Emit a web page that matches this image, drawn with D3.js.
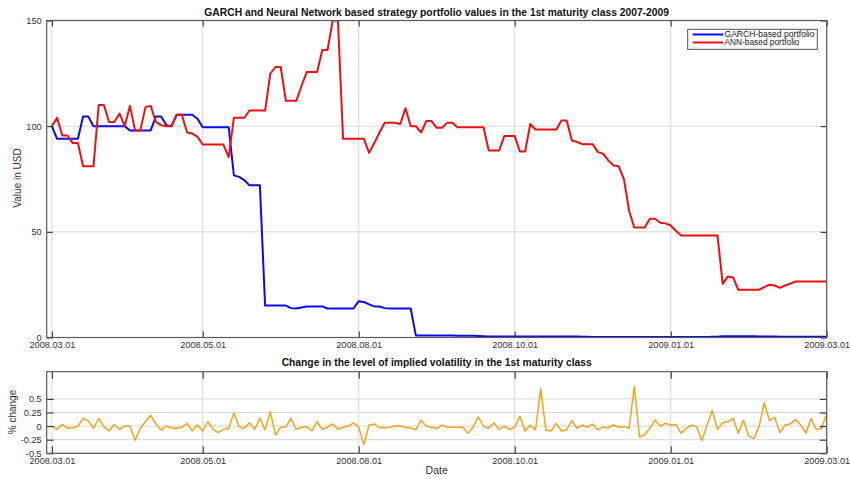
<!DOCTYPE html>
<html>
<head>
<meta charset="utf-8">
<script src="https://cdn.jsdelivr.net/npm/d3@7"></script>
<style>
  html, body { margin: 0; padding: 0; background: #fff; }
  svg { display: block; font-family: "Liberation Sans", Arial, Helvetica, sans-serif; }
</style>
</head>
<body>
<svg id="chart" width="850" height="479"></svg>
<script>
// Observation index (1..150) of each trading day and the dates shown on the axis
const tickIndex = [1, 30, 60, 90, 120, 150];
const tickLabels = ["2008.03.01", "2008.05.01", "2008.08.01", "2008.10.01", "2009.01.01", "2009.03.01"];

// Portfolio value (USD) of the GARCH-based strategy
const garchValues = [
  100, 94, 94, 94, 94, 94, 104.6, 104.6, 100, 100,
  100, 100, 100, 100, 100, 98, 98, 98, 98, 98,
  104.6, 104.6, 100.5, 100, 105.4, 105.4, 105.4, 105.4, 103.5, 99.5,
  99.5, 99.5, 99.5, 99.5, 99.5, 76.7, 76, 74.5, 72, 72,
  72, 15.1, 15.1, 15.1, 15.1, 15.1, 13.9, 13.7, 14.2, 14.7,
  14.7, 14.7, 14.7, 13.7, 13.7, 13.7, 13.7, 13.7, 13.7, 17.2,
  16.8, 15.7, 14.7, 14.7, 13.9, 13.7, 13.7, 13.7, 13.7, 13.7,
  0.9, 0.9, 0.9, 0.9, 0.9, 0.9, 0.9, 0.9, 0.8, 0.8,
  0.8, 0.8, 0.7, 0.6, 0.5, 0.5, 0.5, 0.5, 0.5, 0.5,
  0.5, 0.5, 0.5, 0.5, 0.5, 0.5, 0.5, 0.5, 0.5, 0.5,
  0.5, 0.5, 0.4, 0.3, 0.2, 0.2, 0.2, 0.2, 0.2, 0.2,
  0.2, 0.2, 0.2, 0.2, 0.2, 0.2, 0.2, 0.2, 0.2, 0.2,
  0.2, 0.2, 0.2, 0.2, 0.2, 0.2, 0.2, 0.3, 0.4, 0.6,
  0.6, 0.6, 0.6, 0.6, 0.6, 0.6, 0.5, 0.5, 0.5, 0.5,
  0.4, 0.4, 0.4, 0.4, 0.3, 0.3, 0.3, 0.3, 0.3, 0.3
];

// Portfolio value (USD) of the neural-network-based strategy
const annValues = [
  100, 104, 95.6, 95.6, 92, 92, 81, 81, 81, 110,
  110, 102, 102, 106, 100, 109.6, 98, 98, 109, 109.6,
  102, 100.5, 100, 100, 105.4, 105.4, 97, 96.5, 95, 91.3,
  91.3, 91.3, 91.3, 91.3, 85.3, 104, 104, 104, 107.4, 107.4,
  107.4, 107.4, 124.8, 128, 128, 112, 112, 112, 119, 125.6,
  125.6, 125.6, 136, 136, 150, 150, 94, 94, 94, 94,
  94, 87.4, 92, 97, 101.6, 101.6, 101.6, 101, 108.5, 100,
  100, 97, 102.4, 102.4, 99.2, 99.2, 101.6, 101.6, 99.5, 99.5,
  99.5, 99.5, 99.5, 99.5, 88.5, 88.5, 88.5, 95.3, 95.3, 95.3,
  88, 88, 101, 98.4, 98.4, 98.4, 98.4, 98.4, 102.7, 102.7,
  93.2, 92.5, 91.5, 91.5, 91.5, 87.7, 87, 83.8, 81.4, 81,
  75, 60, 52, 52, 52, 56.2, 56.2, 54.3, 54, 53,
  50.5, 48.3, 48.3, 48.3, 48.3, 48.3, 48.3, 48.3, 48.3, 25.4,
  28.9, 28.4, 22.6, 22.6, 22.6, 22.6, 22.6, 23.8, 25, 24.6,
  23.5, 24.6, 25.5, 26.5, 26.5, 26.5, 26.5, 26.5, 26.5, 26.5
];

// Change in the level of implied volatility (1st maturity class)
const volChange = [
  0, -0.06, 0.03, -0.04, -0.03, 0, 0.14, 0.1, -0.04, 0.14,
  -0.01, -0.09, 0.03, -0.06, 0, 0, -0.26, -0.04, 0.08, 0.2,
  0.04, -0.07, 0, -0.03, -0.04, -0.02, 0.05, -0.09, 0.02, -0.09,
  0.08, -0.06, -0.12, -0.06, -0.04, 0.24, -0.01, -0.04, 0.06, -0.06,
  0.15, -0.07, 0.26, -0.16, -0.02, -0.01, 0.14, -0.06, -0.02, -0.01,
  -0.09, 0.08, -0.06, -0.02, 0.04, -0.06, -0.02, 0, 0.06, -0.02,
  -0.34, 0.02, 0.04, -0.03, -0.03, -0.02, 0, 0, -0.02, -0.04,
  -0.06, 0.11, 0, -0.02, -0.04, 0.02, -0.02, -0.02, -0.02, -0.02,
  -0.13, -0.02, 0.17, 0, -0.04, 0.06, -0.06, 0, -0.06, -0.02,
  0.18, -0.09, 0.02, -0.07, 0.68, -0.07, -0.09, 0.05, -0.09, -0.07,
  0.1, -0.04, 0.02, -0.02, 0.04, -0.07, -0.02, -0.03, 0.02, -0.02,
  -0.01, -0.04, 0.73, -0.2, -0.16, -0.04, 0.11, 0, 0.05, 0.02,
  0.03, -0.13, -0.04, 0.02, -0.01, -0.27, 0.02, 0.29, -0.06, 0.06,
  0.08, 0.14, -0.13, 0.11, -0.18, -0.23, -0.01, 0.43, 0.1, 0.16,
  -0.12, 0.02, 0.04, 0.12, 0.02, -0.13, 0.14, -0.06, -0.04, 0.22
];

const topYTicks = [0, 50, 100, 150];
const botYTicks = [-0.5, -0.25, 0, 0.25, 0.5];
const seriesNames = ["GARCH-based portfolio", "ANN-based portfolio"];
const seriesColors = ["#0a0aee", "#ee1010"];

const svg = d3.select("#chart");
const left = 46.7, right = 826.7;
const tickFont = 9.2;

const x = d3.scaleLinear().domain([0, 150]).range([left, right]);
const yTop = d3.scaleLinear().domain([0, 150]).range([337.5, 20.5]);
const yBot = d3.scaleLinear().domain([-0.5, 1]).range([453.3, 371.7]);

// light grid lines at the tick positions
function grid(y, yTicks) {
  const g = svg.append("g");
  const [y0, y1] = y.range();
  g.append("g").selectAll("line").data(tickIndex).join("line")
    .attr("x1", d => x(d)).attr("x2", d => x(d))
    .attr("y1", y1).attr("y2", y0)
    .attr("stroke", "#d8d8d8").attr("stroke-width", 1);
  g.append("g").selectAll("line").data(yTicks).join("line")
    .attr("x1", left).attr("x2", right)
    .attr("y1", d => y(d)).attr("y2", d => y(d))
    .attr("stroke", "#d8d8d8").attr("stroke-width", 1);
}

// box with inward ticks on all four sides
function frame(y, yTicks, yFmt, tickLen) {
  const [y0, y1] = y.range();
  const g = svg.append("g");
  const ax = g.append("g").attr("transform", `translate(0,${y0})`)
    .call(d3.axisBottom(x).tickValues(tickIndex).tickFormat((d, i) => tickLabels[i])
      .tickSizeInner(-tickLen).tickSizeOuter(0).tickPadding(4));
  const axTop = g.append("g").attr("transform", `translate(0,${y1})`)
    .call(d3.axisTop(x).tickValues(tickIndex).tickFormat("").tickSizeInner(-tickLen).tickSizeOuter(0));
  const ay = g.append("g").attr("transform", `translate(${left},0)`)
    .call(d3.axisLeft(y).tickValues(yTicks).tickFormat(yFmt)
      .tickSizeInner(-tickLen).tickSizeOuter(0).tickPadding(5));
  const ayR = g.append("g").attr("transform", `translate(${right},0)`)
    .call(d3.axisRight(y).tickValues(yTicks).tickFormat("").tickSizeInner(-tickLen).tickSizeOuter(0));
  [ax, axTop, ay, ayR].forEach(a => {
    a.select(".domain").remove();
    a.selectAll(".tick line").attr("stroke", "#222");
    a.selectAll(".tick text").attr("fill", "#333").attr("font-size", tickFont)
      .attr("font-family", "Liberation Sans, Arial, sans-serif");
  });
  g.append("rect").attr("x", left).attr("y", y1)
    .attr("width", right - left).attr("height", y0 - y1)
    .attr("fill", "none").attr("stroke", "#5a5a5a").attr("stroke-width", 1.2);
}

// ---------- Top panel: portfolio values ----------
grid(yTop, [50, 100]);
svg.append("clipPath").attr("id", "clipTop").append("rect")
  .attr("x", left).attr("y", 20.5).attr("width", right - left).attr("height", 317);

const lineTop = d3.line().x((d, i) => x(i + 1)).y(d => yTop(d));
[garchValues, annValues].forEach((vals, k) => {
  svg.append("path").datum(vals)
    .attr("clip-path", "url(#clipTop)")
    .attr("d", lineTop)
    .attr("fill", "none").attr("stroke", seriesColors[k])
    .attr("stroke-width", 2).attr("stroke-linejoin", "round");
});
frame(yTop, topYTicks, d3.format("d"), 6);

svg.append("text").attr("x", (left + right) / 2).attr("y", 15.5)
  .attr("text-anchor", "middle").attr("font-size", 10.3).attr("font-weight", "bold")
  .attr("fill", "#111")
  .text("GARCH and Neural Network based strategy portfolio values in the 1st maturity class 2007-2009");

svg.append("text").attr("transform", `translate(21,178) rotate(-90)`)
  .attr("text-anchor", "middle").attr("font-size", 10).attr("fill", "#333")
  .text("Value in USD");

// legend
const lg = svg.append("g").attr("transform", "translate(687.7,29.3)");
lg.append("rect").attr("width", 129.6).attr("height", 20)
  .attr("fill", "#fff").attr("stroke", "#555").attr("stroke-width", 1);
seriesNames.forEach((name, k) => {
  const yy = 5.2 + k * 8;
  lg.append("line").attr("x1", 5).attr("x2", 35.6).attr("y1", yy).attr("y2", yy)
    .attr("stroke", seriesColors[k]).attr("stroke-width", 2);
  lg.append("text").attr("x", 36.8).attr("y", yy + 3)
    .attr("font-size", 8.4).attr("fill", "#222")
    .attr("textLength", k === 0 ? 90 : 75).attr("lengthAdjust", "spacingAndGlyphs")
    .text(name);
});

// ---------- Bottom panel: implied volatility change ----------
grid(yBot, botYTicks);
const lineBot = d3.line().x((d, i) => x(i + 1)).y(d => yBot(d));
svg.append("path").datum(volChange)
  .attr("d", lineBot)
  .attr("fill", "none").attr("stroke", "#f5a31e")
  .attr("stroke-width", 1.5).attr("stroke-linejoin", "round");
frame(yBot, botYTicks, d => (d === 0 ? "0" : String(d)), 7);

svg.append("text").attr("x", (left + right) / 2).attr("y", 366)
  .attr("text-anchor", "middle").attr("font-size", 10.3).attr("font-weight", "bold")
  .attr("fill", "#111")
  .text("Change in the level of implied volatility in the 1st maturity class");

svg.append("text").attr("transform", `translate(16,412) rotate(-90)`)
  .attr("text-anchor", "middle").attr("font-size", 10).attr("fill", "#333")
  .text("% change");

svg.append("text").attr("x", (left + right) / 2).attr("y", 474)
  .attr("text-anchor", "middle").attr("font-size", 10.5).attr("fill", "#333")
  .text("Date");
</script>
</body>
</html>
